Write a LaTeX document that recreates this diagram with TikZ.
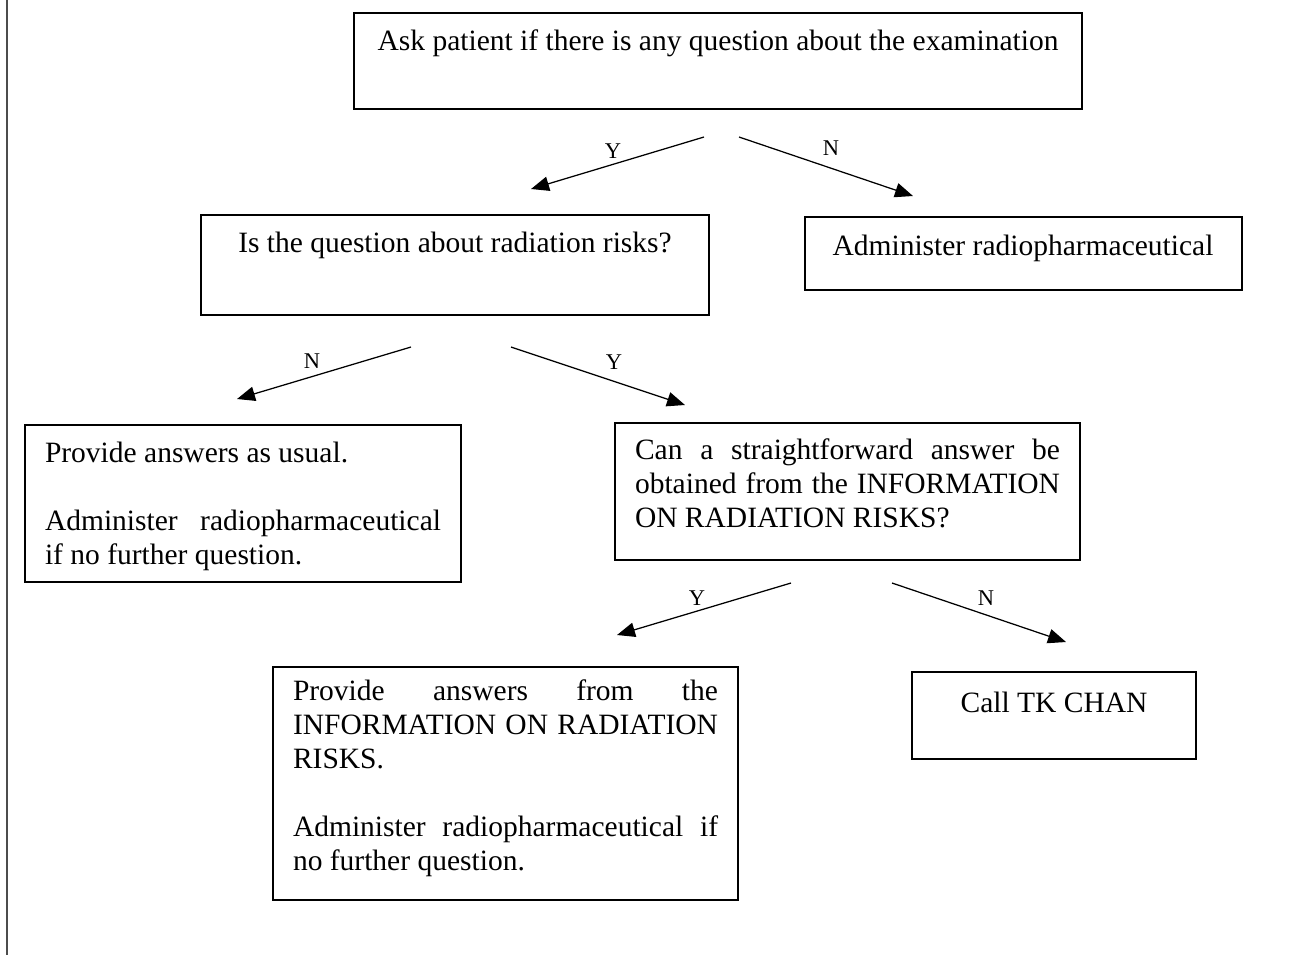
\documentclass[tikz,border=0pt]{standalone}
\usepackage{fontspec}
\setmainfont{Liberation Serif}
\usetikzlibrary{arrows.meta}
\begin{document}
\begin{tikzpicture}[x=0.4pt,y=-0.4pt,
  box/.style={draw=black, line width=0.5pt, inner sep=0pt, outer sep=0pt, anchor=north west},
  txt/.style={inner sep=0pt, outer sep=0pt, font=\fontsize{11.8}{13.6}\selectfont},
  par/.style={txt, align=justify, anchor=base west, execute at begin node={\hyphenpenalty=10000\exhyphenpenalty=10000\tolerance=10000\parskip=0pt}},
  lab/.style={inner sep=0pt, font=\fontsize{9}{10}\selectfont},
  arr/.style={line width=0.5pt, -{Triangle[length=7.2pt,width=5.8pt]}}]
\useasboundingbox (0,0) rectangle (1290,955);
\draw[line width=0.8pt, draw=black!70] (7,0) -- (7,955);
% boxes
\node[box, minimum width=291.2pt, minimum height=38.4pt] (b1) at (354,13) {};
\node[box, minimum width=203.2pt, minimum height=40pt] (b2) at (201,215) {};
\node[box, minimum width=174.8pt, minimum height=29.2pt] (b3) at (805,217) {};
\node[box, minimum width=174.4pt, minimum height=62.8pt] (b4) at (25,425) {};
\node[box, minimum width=186pt, minimum height=54.8pt] (b5) at (615,423) {};
\node[box, minimum width=186pt, minimum height=93.2pt] (b6) at (273,667) {};
\node[box, minimum width=113.6pt, minimum height=34.8pt] (b7) at (912,672) {};
% texts
\node[txt, anchor=base] (t1) at (718,50) {Ask patient if there is any question about the examination};
\node[txt, anchor=base] (t2) at (455,252) {Is the question about radiation risks?};
\node[txt, anchor=base] (t3) at (1023,255) {Administer radiopharmaceutical};
\node[par, text width=158.4pt] (t4) at (45,462) {Provide answers as usual.\par\vspace{13.6pt}Administer radiopharmaceutical if no further question.};
\node[par, text width=170pt] (t5) at (635,459) {Can a straightforward answer be obtained from the INFORMATION ON RADIATION RISKS?};
\node[par, text width=170pt] (t6) at (293,700) {Provide answers from the\linebreak INFORMATION ON RADIATION RISKS.\par\vspace{13.6pt}Administer radiopharmaceutical if no further question.};
\node[txt, anchor=base] (t7) at (1054,712) {Call TK CHAN};
% arrow end points
\coordinate (a1s) at (704,137); \coordinate (a1e) at (531,189);
\coordinate (a2s) at (739,137); \coordinate (a2e) at (913,196);
\coordinate (a3s) at (411,347); \coordinate (a3e) at (237,399);
\coordinate (a4s) at (511,347); \coordinate (a4e) at (685,405);
\coordinate (a5s) at (791,583); \coordinate (a5e) at (617,635);
\coordinate (a6s) at (892,583); \coordinate (a6e) at (1066,642);
\draw[arr] (a1s) -- (a1e);
\draw[arr] (a2s) -- (a2e);
\draw[arr] (a3s) -- (a3e);
\draw[arr] (a4s) -- (a4e);
\draw[arr] (a5s) -- (a5e);
\draw[arr] (a6s) -- (a6e);
% labels
\node[lab] (l1) at (613,151) {Y};
\node[lab] (l2) at (831,148) {N};
\node[lab] (l3) at (312,361) {N};
\node[lab] (l4) at (614,362) {Y};
\node[lab] (l5) at (697,598) {Y};
\node[lab] (l6) at (986,598) {N};
\end{tikzpicture}
\end{document}
